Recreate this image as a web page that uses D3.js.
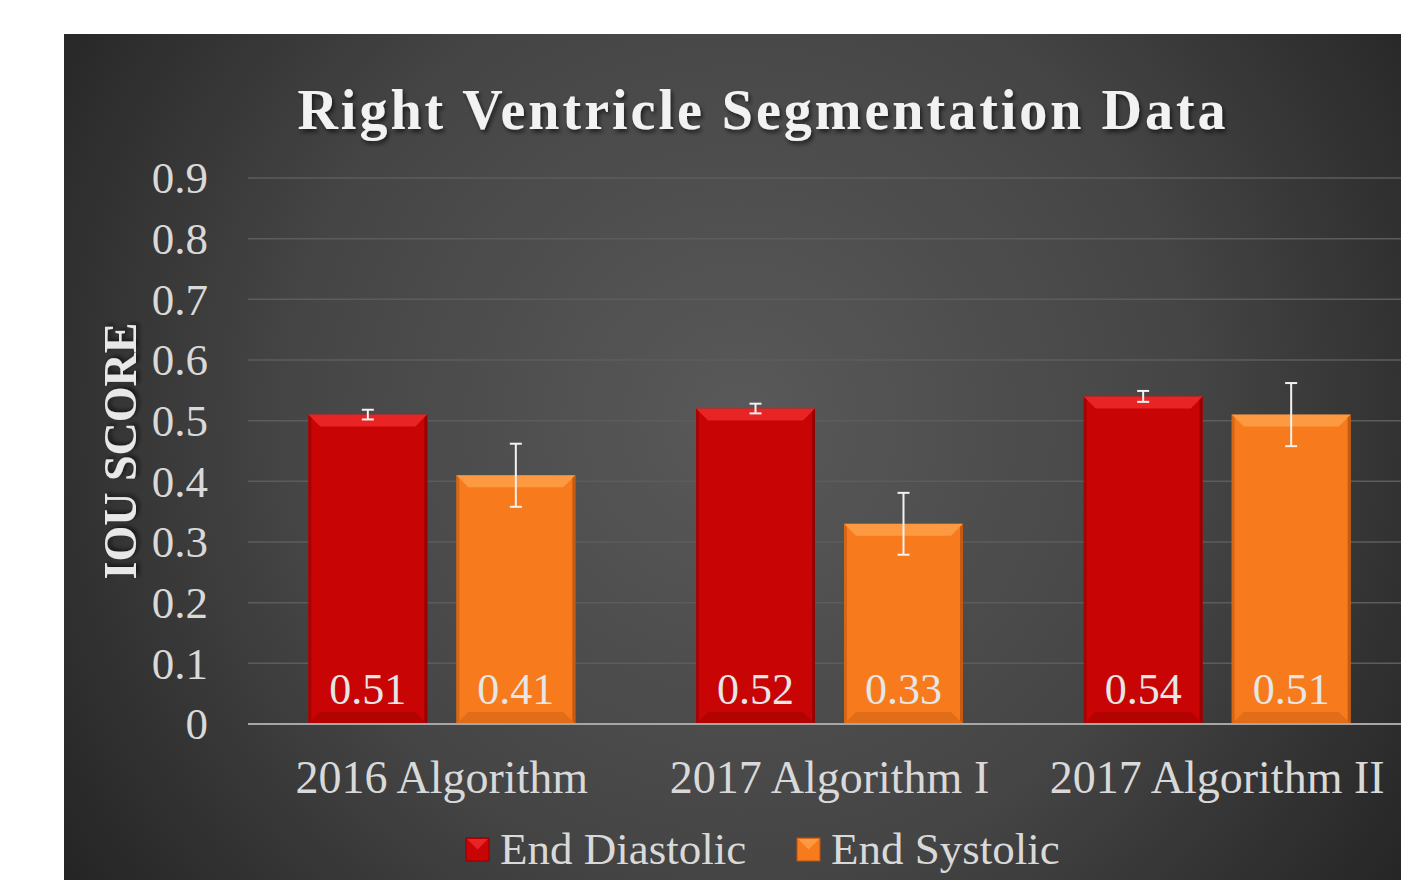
<!DOCTYPE html>
<html><head><meta charset="utf-8">
<script src="https://cdn.jsdelivr.net/npm/d3@7"></script>
<style>html,body{margin:0;padding:0;background:#fff;}svg{display:block;}</style>
</head><body>
<script>
const categories = ["2016 Algorithm", "2017 Algorithm I", "2017 Algorithm II"];
const seriesNames = ["End Diastolic", "End Systolic"];
const endDiastolic = [0.51, 0.52, 0.54];
const endSystolic = [0.41, 0.33, 0.51];
const errDiastolic = [0.008, 0.008, 0.009];
const errSystolic = [0.052, 0.051, 0.052];
const yTicks = [0, 0.1, 0.2, 0.3, 0.4, 0.5, 0.6, 0.7, 0.8, 0.9];

const W = 1401, H = 880;
const svg = d3.select("body").append("svg").attr("width", W).attr("height", H);
const defs = svg.append("defs");
const rg = defs.append("radialGradient").attr("id","bg").attr("gradientUnits","userSpaceOnUse")
  .attr("cx",740).attr("cy",420).attr("r",820);
rg.append("stop").attr("offset","0%").attr("stop-color","#595959");
rg.append("stop").attr("offset","55%").attr("stop-color","#454545");
rg.append("stop").attr("offset","100%").attr("stop-color","#242424");
const sh = defs.append("filter").attr("id","ts").attr("x","-10%").attr("y","-30%").attr("width","120%").attr("height","160%");
sh.append("feDropShadow").attr("dx",2).attr("dy",3).attr("stdDeviation",2).attr("flood-color","#000").attr("flood-opacity",0.6);

svg.append("rect").attr("x",64).attr("y",34).attr("width",W-64).attr("height",H-34).attr("fill","url(#bg)");

const x0 = d3.scaleBand().domain(categories).range([248, 1411]).paddingInner(0).paddingOuter(0);
const y = d3.scaleLinear().domain([0, 0.9]).range([724, 178]);
const barW = 119, gap = 29;
const colors = [{main:"#c90404", light:"#ff3a3a", dark:"#8a0000"}, {main:"#f77b1c", light:"#ffae5a", dark:"#b85410"}];

// gridlines
svg.append("g").selectAll("line").data(yTicks.slice(1)).join("line")
  .attr("x1",248).attr("x2",1401).attr("y1",d=>y(d)).attr("y2",d=>y(d))
  .attr("stroke","#5c5c5c").attr("stroke-width",1.5);

// y tick labels
const yAxis = d3.axisLeft(y).tickValues(yTicks).tickSize(0).tickPadding(0).tickFormat(d=>d===0?"0":d3.format(".1f")(d));
const ya = svg.append("g").attr("transform","translate(208,0)").call(yAxis);
ya.select(".domain").remove();
ya.selectAll("text").attr("font-family","Liberation Serif").attr("font-size",45).attr("fill","#d9d9d9").attr("dy","0.33em");

// axis title
svg.append("text").attr("transform","translate(136,451) rotate(-90)").attr("text-anchor","middle")
  .attr("font-family","Liberation Serif").attr("font-weight","bold").attr("font-size",46).attr("fill","#e8e8e8")
  .attr("filter","url(#ts)").text("IOU SCORE");

// bars
const data = categories.map((c,i)=>[
  {cat:c, s:0, v:endDiastolic[i], e:errDiastolic[i]},
  {cat:c, s:1, v:endSystolic[i], e:errSystolic[i]}]).flat();
const bx = d => x0(d.cat) + x0.bandwidth()/2 + (d.s===0 ? -gap/2 - barW : gap/2);
const bev = 12;
const g = svg.append("g").selectAll("g").data(data).join("g");
g.append("rect").attr("x",bx).attr("y",d=>y(d.v)).attr("width",barW).attr("height",d=>y(0)-y(d.v))
  .attr("fill",d=>colors[d.s].main);
g.append("path").attr("d",d=>{const x=bx(d),t=y(d.v);return `M${x},${t}L${x+barW},${t}L${x+barW-bev},${t+bev}L${x+bev},${t+bev}Z`;})
  .attr("fill",d=>colors[d.s].light).attr("opacity",0.6);
g.append("path").attr("d",d=>{const x=bx(d),t=y(d.v),b=y(0);return `M${x+barW},${t}L${x+barW},${b}L${x+barW-3},${b-3}L${x+barW-3},${t+3}Z`;})
  .attr("fill",d=>colors[d.s].dark).attr("opacity",0.8);
g.append("path").attr("d",d=>{const x=bx(d),t=y(d.v),b=y(0);return `M${x},${t}L${x},${b}L${x+3},${b-3}L${x+3},${t+3}Z`;})
  .attr("fill",d=>colors[d.s].dark).attr("opacity",0.5);
g.append("path").attr("d",d=>{const x=bx(d),b=y(0);return `M${x},${b}L${x+barW},${b}L${x+barW-bev},${b-bev}L${x+bev},${b-bev}Z`;})
  .attr("fill",d=>colors[d.s].dark).attr("opacity",0.35);
g.append("text").attr("x",d=>bx(d)+barW/2).attr("y",704).attr("text-anchor","middle")
  .attr("font-family","Liberation Serif").attr("font-size",44).attr("fill","#e6e6e6").text(d=>d.v.toFixed(2));
const eb = g.append("g").attr("stroke","#f2f2f2").attr("stroke-width",2);
eb.append("line").attr("x1",d=>bx(d)+barW/2).attr("x2",d=>bx(d)+barW/2).attr("y1",d=>y(d.v+d.e)).attr("y2",d=>y(d.v-d.e));
eb.append("line").attr("x1",d=>bx(d)+barW/2-6).attr("x2",d=>bx(d)+barW/2+6).attr("y1",d=>y(d.v+d.e)).attr("y2",d=>y(d.v+d.e));
eb.append("line").attr("x1",d=>bx(d)+barW/2-6).attr("x2",d=>bx(d)+barW/2+6).attr("y1",d=>y(d.v-d.e)).attr("y2",d=>y(d.v-d.e));

svg.append("line").attr("x1",248).attr("x2",1401).attr("y1",y(0)).attr("y2",y(0)).attr("stroke","#a6a6a6").attr("stroke-width",2);

const xAxis = d3.axisBottom(x0).tickSize(0).tickPadding(0);
const xa = svg.append("g").attr("transform","translate(0,724)").call(xAxis);
xa.select(".domain").remove();
xa.selectAll("text").attr("font-family","Liberation Serif").attr("font-size",46).attr("fill","#d9d9d9").attr("dy",0).attr("y",69);

svg.append("text").attr("x",763).attr("y",129).attr("text-anchor","middle")
  .attr("font-family","Liberation Serif").attr("font-weight","bold").attr("font-size",56).attr("letter-spacing",3)
  .attr("fill","#f2f2f2").attr("filter","url(#ts)").text("Right Ventricle Segmentation Data");

const leg = svg.append("g");
const legX = [466, 797];
seriesNames.forEach((n,i)=>{
  const lg = leg.append("g").attr("transform",`translate(${legX[i]},838)`);
  lg.append("rect").attr("width",23).attr("height",23).attr("fill",colors[i].main).attr("stroke",colors[i].dark).attr("stroke-width",1);
  lg.append("path").attr("d","M1,1L22,1L11.5,11.5Z").attr("fill",colors[i].light).attr("opacity",0.6);
  lg.append("text").attr("x",34).attr("y",26).attr("font-family","Liberation Serif").attr("font-size",45).attr("fill","#d9d9d9").text(n);
});
</script>
</body></html>
